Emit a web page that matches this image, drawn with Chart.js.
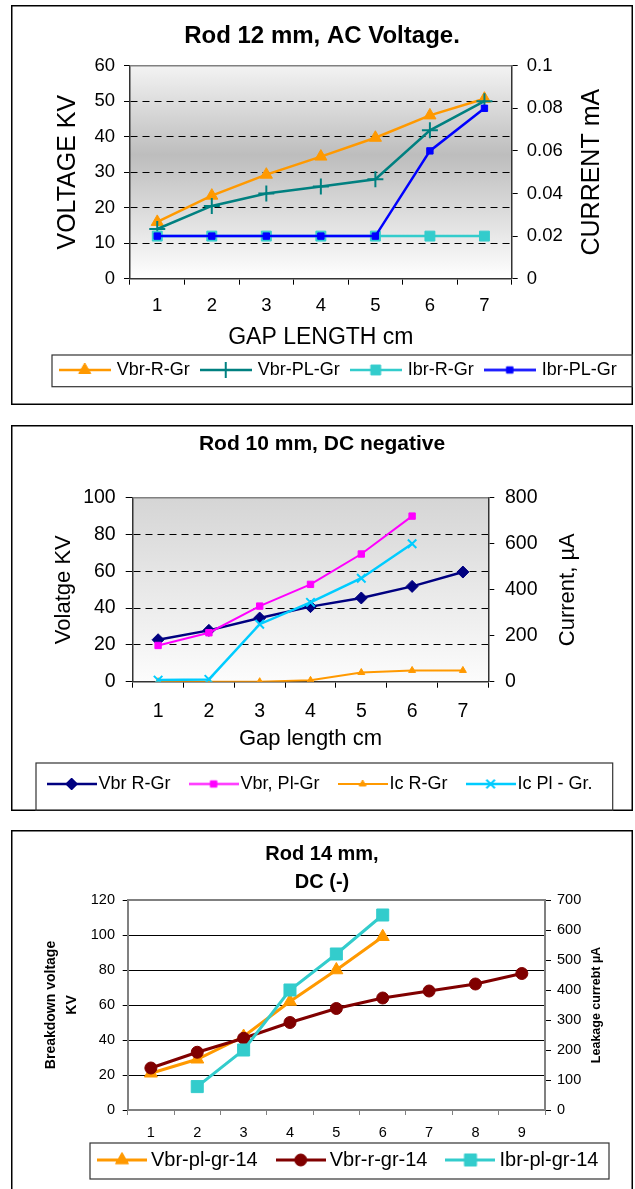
<!DOCTYPE html>
<html>
<head>
<meta charset="utf-8">
<script src="https://cdn.jsdelivr.net/npm/chart.js"></script>
<style>
  body { margin: 0; background: #fff; width: 635px; height: 1189px; position: relative; overflow: hidden; }
  canvas { position: absolute; }
</style>
</head>
<body>
<canvas id="chart1" width="622" height="400" style="left:11px;top:5px"></canvas>
<canvas id="chart2" width="622" height="386" style="left:11px;top:425px"></canvas>
<canvas id="chart3" width="622" height="359" style="left:11px;top:830px"></canvas>
<script>

// chart 1 - rod 12 mm, AC
var gap1 = ["1", "2", "3", "4", "5", "6", "7"];
var vbrRGr1 = [16, 23.4, 29.3, 34.4, 39.7, 46, 50.7];
var vbrPLGr1 = [14, 20.5, 24, 26, 28, 41.8, 50];
var ibrRGr1 = [0.02, 0.02, 0.02, 0.02, 0.02, 0.02, 0.02];
var ibrPLGr1 = [0.02, 0.02, 0.02, 0.02, 0.02, 0.06, 0.08];
var voltTicks1 = [0, 10, 20, 30, 40, 50, 60];
var voltLabels1 = ["0", "10", "20", "30", "40", "50", "60"];
var currTicks1 = [0, 0.02, 0.04, 0.06, 0.08, 0.1];
var currLabels1 = ["0", "0.02", "0.04", "0.06", "0.08", "0.1"];

// chart 2 - rod 10 mm, DC negative
var gap2 = ["1", "2", "3", "4", "5", "6", "7"];
var vbrRGr2 = [22.8, 27.9, 34.6, 40.8, 45.5, 51.8, 59.6];
var vbrPlGr2 = [19.7, 26.6, 41.1, 52.9, 69.4, 90];
var icRGr2 = [0, 0, 0, 6, 40, 49, 49];
var icPlGr2 = [7, 10, 250, 345, 450, 600];
var voltTicks2 = [0, 20, 40, 60, 80, 100];
var voltLabels2 = ["0", "20", "40", "60", "80", "100"];
var currTicks2 = [0, 200, 400, 600, 800];
var currLabels2 = ["0", "200", "400", "600", "800"];

// chart 3 - rod 14 mm, DC (-)
var gap3 = ["1", "2", "3", "4", "5", "6", "7", "8", "9"];
var vbrPl14 = [21, 29, 42, 62, 80, 99];
var vbrR14 = [24, 33, 41, 50, 58, 64, 68, 72, 78];
var ibrPl14 = [null, 78, 200, 400, 520, 650];
var voltTicks3 = [0, 20, 40, 60, 80, 100, 120];
var voltLabels3 = ["0", "20", "40", "60", "80", "100", "120"];
var currTicks3 = [0, 100, 200, 300, 400, 500, 600, 700];
var currLabels3 = ["0", "100", "200", "300", "400", "500", "600", "700"];


var FONT = "'Liberation Sans', Arial, sans-serif";

// layout of each picture (pixels inside its canvas)
var lay1 = {
  plot: { left: 119, right: 500.7, top: 60.7, bottom: 273.7 },
  gradient: [[0, "#f3f3f3"], [0.42, "#bdbdbd"], [1, "#ffffff"]],
  topLine: "#808080", topWidth: 1.5,
  legendFont: 18, legendPad: 13, iconW: 52, boxW: 46, legendStart: 47.7, legendY: 365,
  legendBox: [41, 350, 581, 31.7],
  rightTitle: "CURRENT mA", rightX: 581, rightFont: "25px " + FONT
};
var lay2 = {
  plot: { left: 121.7, right: 477.3, top: 72.7, bottom: 256.7 },
  gradient: [[0, "#d5d5d5"], [1, "#fcfcfc"]],
  topLine: "#808080", topWidth: 1.5,
  legendFont: 18, legendPad: 25, iconW: 50, boxW: 36, legendStart: 35.6, legendY: 359,
  legendBox: [25, 338, 576.7, 48],
  rightTitle: "Current, µA", rightX: 557, rightFont: "22px " + FONT
};
var lay3 = {
  plot: { left: 116.7, right: 534, top: 70, bottom: 280 },
  gradient: [[0, "#ffffff"], [1, "#ffffff"]],
  topLine: "#808080", topWidth: 2,
  legendFont: 20, legendPad: 24, iconW: 50, boxW: 38, legendStart: 86, legendY: 330,
  legendBox: [79, 313, 519, 36],
  rightTitle: "Leakage currebt µA", rightX: 586, rightFont: "bold 12.5px " + FONT,
  openBottom: true
};

function useTicks(vals) {
  return function (s) {
    s.ticks = vals.map(function (v) { return { value: v }; });
  };
}

function tickText(labels) {
  return function (v, i) { return labels[i]; };
}

function legendIcon(ds, w) {
  var r = ds.pointRadius;
  var h = Math.ceil(r * 2 + 6);
  var c = document.createElement("canvas");
  c.width = w;
  c.height = h;
  var ctx = c.getContext("2d");
  ctx.strokeStyle = ds.borderColor;
  ctx.lineWidth = ds.borderWidth;
  ctx.beginPath();
  ctx.moveTo(0, h / 2);
  ctx.lineTo(w, h / 2);
  ctx.stroke();
  ctx.fillStyle = ds.backgroundColor;
  ctx.lineWidth = ds.pointBorderWidth;
  Chart.helpers.drawPoint(ctx, { pointStyle: ds.pointStyle, radius: r, borderWidth: ds.pointBorderWidth, rotation: 0 }, w / 2, h / 2);
  return c;
}

function framePlugin(L) {
  return {
    id: "frame",
    afterLayout: function (chart) {
      // legend is kept 1px high in the layout and placed here
      var lg = chart.legend;
      lg.left = L.legendStart + (L.iconW - L.boxW) / 2 - L.legendPad;
      lg.right = lg.left + 2000;
      lg.top = L.legendY - L.legendPad - L.legendFont / 2;
      lg.bottom = lg.top + L.legendFont + 2 * L.legendPad;
    },
    beforeDraw: function (chart) {
      var ctx = chart.ctx, a = chart.chartArea;
      ctx.save();
      ctx.fillStyle = "#fff";
      ctx.fillRect(0, 0, chart.width, chart.height);
      var g = ctx.createLinearGradient(0, a.top, 0, a.bottom);
      L.gradient.forEach(function (s) { g.addColorStop(s[0], s[1]); });
      ctx.fillStyle = g;
      ctx.fillRect(a.left, a.top, a.right - a.left, a.bottom - a.top);
      ctx.restore();
    },
    beforeDatasetsDraw: function (chart) {
      var ctx = chart.ctx, a = chart.chartArea;
      ctx.save();
      ctx.strokeStyle = L.topLine;
      ctx.lineWidth = L.topWidth;
      ctx.beginPath();
      ctx.moveTo(a.left, a.top);
      ctx.lineTo(a.right, a.top);
      ctx.stroke();
      ctx.restore();
    },
    afterDraw: function (chart) {
      var ctx = chart.ctx, a = chart.chartArea;
      ctx.save();
      // outer frame
      ctx.strokeStyle = "#000";
      ctx.lineWidth = 1.5;
      ctx.strokeRect(0.75, 0.75, chart.width - 1.5, chart.height - 1.5 + (L.openBottom ? 10 : 0));
      // legend frame
      var b = L.legendBox;
      ctx.strokeStyle = "#333";
      ctx.lineWidth = 1.2;
      ctx.strokeRect(b[0], b[1], b[2], b[3]);
      // right axis title, reading upwards
      ctx.translate(L.rightX, (a.top + a.bottom) / 2);
      ctx.rotate(-Math.PI / 2);
      ctx.fillStyle = "#000";
      ctx.font = L.rightFont;
      ctx.textAlign = "center";
      ctx.textBaseline = "middle";
      ctx.fillText(L.rightTitle, 0, 0);
      ctx.restore();
    }
  };
}

function legendOpts(L) {
  return {
    position: "bottom",
    align: "start",
    maxHeight: 1,
    labels: {
      usePointStyle: true,
      pointStyleWidth: L.boxW,
      padding: L.legendPad,
      color: "#000",
      font: { family: FONT, size: L.legendFont },
      generateLabels: function (chart) {
        return chart.data.datasets.map(function (ds, i) {
          return {
            text: ds.label,
            pointStyle: legendIcon(ds, L.iconW),
            datasetIndex: i,
            fillStyle: ds.backgroundColor,
            strokeStyle: ds.borderColor,
            lineWidth: 0,
            hidden: false,
            fontColor: "#000"
          };
        });
      }
    }
  };
}

function xScale(L, H, opt) {
  return {
    offset: true,
    grid: { offset: true, drawOnChartArea: false, tickLength: opt.tl, color: opt.tickColor },
    border: { color: opt.axisColor, width: opt.axisWidth },
    ticks: { color: "#000", font: { family: FONT, size: opt.size }, padding: opt.pad, maxRotation: 0, autoSkip: false },
    title: opt.title,
    afterFit: function (s) {
      s.height = H - L.plot.bottom - s.chart.legend.height;
    }
  };
}

function yScale(L, opt) {
  return {
    position: "left",
    min: opt.ticksV[0],
    max: opt.ticksV[opt.ticksV.length - 1],
    afterBuildTicks: useTicks(opt.ticksV),
    ticks: { callback: tickText(opt.labels), color: "#000", font: { family: FONT, size: opt.size }, padding: opt.pad },
    grid: { color: opt.gridColor, tickColor: opt.tickColor, tickLength: opt.tl, lineWidth: 1 },
    border: { color: opt.axisColor, width: opt.axisWidth, dash: opt.dash },
    title: opt.title,
    afterFit: function (s) { s.width = L.plot.left; }
  };
}

function y1Scale(L, W, opt) {
  return {
    position: "right",
    min: opt.ticksV[0],
    max: opt.ticksV[opt.ticksV.length - 1],
    afterBuildTicks: useTicks(opt.ticksV),
    ticks: { callback: tickText(opt.labels), color: "#000", font: { family: FONT, size: opt.size }, padding: opt.pad },
    grid: { drawOnChartArea: false, color: opt.tickColor, tickLength: opt.tl },
    border: { color: opt.axisColor, width: opt.axisWidth },
    afterFit: function (s) { s.width = W - L.plot.right; }
  };
}

function baseOptions(L, title) {
  return {
    responsive: false,
    animation: false,
    events: [],
    layout: { padding: 0 },
    elements: { line: { tension: 0, fill: false } },
    plugins: {
      title: title,
      legend: legendOpts(L),
      tooltip: { enabled: false }
    }
  };
}

// x title padding: axis bottom sits 1px above canvas bottom
function xTitlePad(H, center, lineH) {
  return H - 1 - lineH / 2 - center;
}

function printChart1() {
  var L = lay1;
  var opts = baseOptions(L, {
    display: true, text: "Rod 12 mm, AC Voltage.", color: "#000",
    font: { family: FONT, size: 24, weight: "bold" }, padding: { top: 16.5, bottom: 15.4 }
  });
  opts.scales = {
    x: xScale(L, 400, {
      tl: 6, tickColor: "#000", axisColor: "#333", axisWidth: 1.5, size: 18.5, pad: 9.7,
      title: { display: true, text: "GAP LENGTH cm", color: "#000", font: { family: FONT, size: 23 },
        padding: { top: 0, bottom: xTitlePad(400, 333, 23 * 1.2) } }
    }),
    y: yScale(L, {
      ticksV: voltTicks1, labels: voltLabels1, size: 18.5, pad: 9, tl: 6,
      gridColor: "#000", tickColor: "#000", axisColor: "#333", axisWidth: 1.5, dash: [7, 5],
      title: { display: true, text: "VOLTAGE KV", color: "#000", font: { family: FONT, size: 25 }, padding: { top: 42.5, bottom: 0 } }
    }),
    y1: y1Scale(L, 622, {
      ticksV: currTicks1, labels: currLabels1, size: 18.5, pad: 9, tl: 6, tickColor: "#000", axisColor: "#333", axisWidth: 1.5
    })
  };

  var ctx = document.getElementById("chart1").getContext("2d");
  var chart = new Chart(ctx, {
    type: "line",
    data: {
      labels: gap1,
      datasets: [
        { label: "Vbr-R-Gr", data: vbrRGr1, yAxisID: "y", borderColor: "#FF9900", backgroundColor: "#FF9900",
          borderWidth: 2.5, pointStyle: "triangle", pointRadius: 7, pointBorderWidth: 1, order: 4 },
        { label: "Vbr-PL-Gr", data: vbrPLGr1, yAxisID: "y", borderColor: "#008080", backgroundColor: "#008080",
          borderWidth: 2.5, pointStyle: "cross", pointRadius: 8, pointBorderWidth: 2, order: 3 },
        { label: "Ibr-R-Gr", data: ibrRGr1, yAxisID: "y1", borderColor: "#33CCCC", backgroundColor: "#33CCCC",
          borderWidth: 2.5, pointStyle: "rect", pointRadius: 7, pointBorderWidth: 1, order: 2 },
        { label: "Ibr-PL-Gr", data: ibrPLGr1, yAxisID: "y1", borderColor: "#0000FF", backgroundColor: "#0000FF",
          borderWidth: 2.5, pointStyle: "rect", pointRadius: 4.5, pointBorderWidth: 1, order: 1 }
      ]
    },
    options: opts,
    plugins: [framePlugin(L)]
  });
}

function printChart2() {
  var L = lay2;
  var opts = baseOptions(L, {
    display: true, text: "Rod 10 mm, DC negative", color: "#000",
    font: { family: FONT, size: 21, weight: "bold" }, padding: { top: 6.4, bottom: 41.1 }
  });
  opts.scales = {
    x: xScale(L, 386, {
      tl: 6, tickColor: "#000", axisColor: "#333", axisWidth: 1.5, size: 19.5, pad: 12.3,
      title: { display: true, text: "Gap length cm", color: "#000", font: { family: FONT, size: 22 },
        padding: { top: 0, bottom: xTitlePad(386, 314, 22 * 1.2) } }
    }),
    y: yScale(L, {
      ticksV: voltTicks2, labels: voltLabels2, size: 19.5, pad: 10, tl: 7,
      gridColor: "#000", tickColor: "#000", axisColor: "#333", axisWidth: 1.5, dash: [7, 5],
      title: { display: true, text: "Volatge KV", color: "#000", font: { family: FONT, size: 22 }, padding: { top: 39.3, bottom: 0 } }
    }),
    y1: y1Scale(L, 622, {
      ticksV: currTicks2, labels: currLabels2, size: 19.5, pad: 10.7, tl: 6, tickColor: "#000", axisColor: "#333", axisWidth: 1.5
    })
  };

  var ctx = document.getElementById("chart2").getContext("2d");
  var chart = new Chart(ctx, {
    type: "line",
    data: {
      labels: gap2,
      datasets: [
        { label: "Vbr R-Gr", data: vbrRGr2, yAxisID: "y", borderColor: "#000080", backgroundColor: "#000080",
          borderWidth: 2.5, pointStyle: "rectRot", pointRadius: 6, pointBorderWidth: 1, order: 4 },
        { label: "Vbr, Pl-Gr", data: vbrPlGr2, yAxisID: "y", borderColor: "#FF00FF", backgroundColor: "#FF00FF",
          borderWidth: 2, pointStyle: "rect", pointRadius: 4.5, pointBorderWidth: 1, order: 3 },
        { label: "Ic R-Gr", data: icRGr2, yAxisID: "y1", borderColor: "#FF9900", backgroundColor: "#FF9900",
          borderWidth: 2, pointStyle: "triangle", pointRadius: 4, pointBorderWidth: 1, order: 2 },
        { label: "Ic Pl - Gr.", data: icPlGr2, yAxisID: "y1", borderColor: "#00CCFF", backgroundColor: "#00CCFF",
          borderWidth: 2.5, pointStyle: "crossRot", pointRadius: 6, pointBorderWidth: 2, order: 1 }
      ]
    },
    options: opts,
    plugins: [framePlugin(L)]
  });
}

function printChart3() {
  var L = lay3;
  var opts = baseOptions(L, {
    display: true, text: ["Rod 14 mm,", "DC (-)"], color: "#000",
    font: { family: FONT, size: 20, weight: "bold", lineHeight: 1.4 }, padding: { top: 10, bottom: 4 }
  });
  opts.scales = {
    x: xScale(L, 359, {
      tl: 5, tickColor: "#808080", axisColor: "#808080", axisWidth: 2, size: 14.5, pad: 9.3,
      title: { display: false }
    }),
    y: yScale(L, {
      ticksV: voltTicks3, labels: voltLabels3, size: 14.5, pad: 7.7, tl: 5,
      gridColor: "#000", tickColor: "#000", axisColor: "#808080", axisWidth: 2, dash: [],
      title: { display: true, text: ["Breakdown voltage", "KV"], color: "#000",
        font: { family: FONT, size: 14, weight: "bold", lineHeight: 1.5 }, padding: { top: 29.5, bottom: 0 } }
    }),
    y1: y1Scale(L, 622, {
      ticksV: currTicks3, labels: currLabels3, size: 14.5, pad: 6, tl: 6, tickColor: "#000", axisColor: "#808080", axisWidth: 2
    })
  };

  var ctx = document.getElementById("chart3").getContext("2d");
  var chart = new Chart(ctx, {
    type: "line",
    data: {
      labels: gap3,
      datasets: [
        { label: "Vbr-pl-gr-14", data: vbrPl14, yAxisID: "y", borderColor: "#FF9900", backgroundColor: "#FF9900",
          borderWidth: 3, pointStyle: "triangle", pointRadius: 7.5, pointBorderWidth: 1, order: 3 },
        { label: "Vbr-r-gr-14", data: vbrR14, yAxisID: "y", borderColor: "#800000", backgroundColor: "#800000",
          borderWidth: 3, pointStyle: "circle", pointRadius: 6, pointBorderWidth: 1, order: 2 },
        { label: "Ibr-pl-gr-14", data: ibrPl14, yAxisID: "y1", borderColor: "#33CCCC", backgroundColor: "#33CCCC",
          borderWidth: 3, pointStyle: "rect", pointRadius: 8.5, pointBorderWidth: 1, order: 1 }
      ]
    },
    options: opts,
    plugins: [framePlugin(L)]
  });
}

function init() {
  printChart1();
  printChart2();
  printChart3();
}

init();
</script>
</body>
</html>
